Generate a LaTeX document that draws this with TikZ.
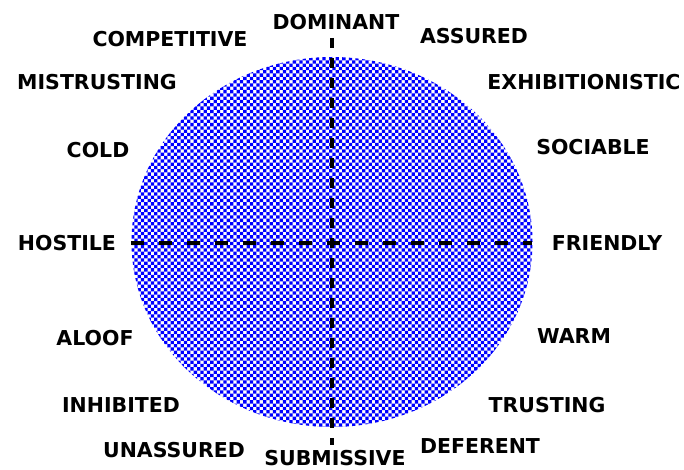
\documentclass[tikz,border=0pt]{standalone}
\usepackage{fontspec}
\setmainfont{DejaVu Sans}
\usetikzlibrary{shapes.geometric}
\definecolor{chkblue}{RGB}{0,0,255}
\tikzset{
  lbl/.style={inner sep=0pt,anchor=base,font=\fontsize{20.5}{20.5}\selectfont\bfseries},
  disc/.style={ellipse,draw=none,fill=white,inner sep=0pt,minimum width=401pt,minimum height=370pt},
  haxis/.style={line width=4pt,dash pattern=on 13pt off 15pt},
  vaxis/.style={line width=3.5pt,dash pattern=on 10pt off 10pt}
}
\begin{document}
\begin{tikzpicture}[x=1pt,y=-1pt]
\useasboundingbox (0,0) rectangle (684,470);
\node[disc] (c) at (332,242) {};
\begin{scope}
  \clip (c.center) ellipse [x radius=200.5pt, y radius=185pt];
  \foreach \j in {0,...,112} {
    \pgfmathsetmacro{\yy}{57+3.3*\j}
    \pgfmathsetmacro{\xo}{131+3.3*mod(\j,2)}
    \fill[chkblue] \foreach \i in {0,...,61} {
      ({\xo+6.6*\i},\yy) rectangle ++(3.3,3.3)
    };
  }
\end{scope}
\coordinate (vt) at (332,38);
\coordinate (vb) at (332,445);
\coordinate (hl) at (131,243);
\coordinate (hr) at (532,243);
\draw[haxis] (hl) -- (hr);
\draw[vaxis] (vt) -- (vb);
\node[lbl] (dom) at (336,30) {DOMINANT};
\node[lbl] (comp) at (170,47) {COMPETITIVE};
\node[lbl] (ass) at (474,44) {ASSURED};
\node[lbl] (mis) at (97,90) {MISTRUSTING};
\node[lbl] (exh) at (584,90) {EXHIBITIONISTIC};
\node[lbl] (cold) at (98,158) {COLD};
\node[lbl] (soc) at (593,155) {SOCIABLE};
\node[lbl] (hos) at (67,250) {HOSTILE};
\node[lbl] (fri) at (607,250) {FRIENDLY};
\node[lbl] (alo) at (95,345) {ALOOF};
\node[lbl] (warm) at (574,343) {WARM};
\node[lbl] (inh) at (121,412) {INHIBITED};
\node[lbl] (tru) at (547,412) {TRUSTING};
\node[lbl] (una) at (174,457) {UNASSURED};
\node[lbl] (sub) at (335,465.5) {SUBMISSIVE};
\node[lbl] (def) at (480,453) {DEFERENT};
\end{tikzpicture}
\end{document}
